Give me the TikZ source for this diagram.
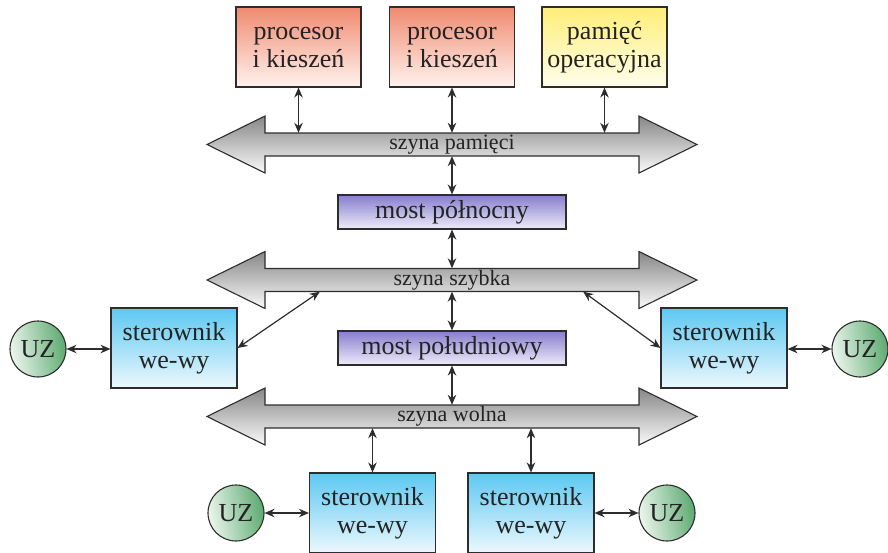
\documentclass[tikz,border=0pt]{standalone}
\usepackage{fontspec}
\setmainfont{Liberation Serif}
\usetikzlibrary{arrows.meta,calc}
\definecolor{edge}{RGB}{45,45,45}
\definecolor{txt}{RGB}{35,35,35}
\definecolor{cpuTop}{RGB}{240,138,112}
\definecolor{cpuBot}{RGB}{255,243,238}
\definecolor{memTop}{RGB}{255,238,120}
\definecolor{memBot}{RGB}{255,254,236}
\definecolor{brTop}{RGB}{135,125,205}
\definecolor{brBot}{RGB}{238,236,250}
\definecolor{ioTop}{RGB}{92,200,242}
\definecolor{ioBot}{RGB}{236,248,253}
\definecolor{uzL}{RGB}{236,246,238}
\definecolor{uzR}{RGB}{92,170,112}
\definecolor{busTop}{RGB}{135,135,135}
\definecolor{busBot}{RGB}{250,250,250}
\newcommand\drawbus[3]{%
  \path[busfill] (207,#2) -- (265,#2-28.5) -- (265,#2-11.5) -- (639,#2-11.5) -- (639,#2-28.5) -- (697,#2)
    -- (639,#2+28.5) -- (639,#2+11.5) -- (265,#2+11.5) -- (265,#2+28.5) -- cycle;
  \node[buslabel] (#1) at (452,#2) {#3};}
\begin{document}
\begin{tikzpicture}[x=1pt,y=-1pt,
  base/.style={draw=edge, line width=1.1pt, inner sep=0pt, align=center, text=txt,
    font=\fontsize{26}{28}\selectfont},
  cpubox/.style={base, minimum width=125pt, minimum height=80pt, top color=cpuTop, bottom color=cpuBot},
  membox/.style={base, minimum width=125pt, minimum height=80pt, top color=memTop, bottom color=memBot},
  bridgebox/.style={base, minimum width=228pt, minimum height=34pt, top color=brTop, bottom color=brBot},
  iobox/.style={base, minimum width=126pt, minimum height=80pt, top color=ioTop, bottom color=ioBot},
  uzc/.style={base, circle, minimum size=56pt, left color=uzL, right color=uzR, shading angle=100},
  busfill/.style={draw=edge, line width=1.1pt, top color=busTop, bottom color=busBot},
  buslabel/.style={inner sep=0pt, minimum width=374pt, minimum height=23pt, text=txt,
    font=\fontsize{22}{24}\selectfont},
  dar/.style={draw=edge, line width=1.2pt, {Stealth[length=10pt,width=8.5pt]}-{Stealth[length=10pt,width=8.5pt]}}
]
\useasboundingbox (0,0) rectangle (888,552);
\clip (0,0) rectangle (888,552);

% top row
\node[cpubox] (p1) at (298.5,47) {procesor\\i kieszeń};
\node[cpubox] (p2) at (452,47) {procesor\\i kieszeń};
\node[membox] (mem) at (604.5,47) {pamięć\\operacyjna};

% buses
\drawbus{bus1}{144.5}{szyna pamięci}
\drawbus{bus2}{280}{szyna szybka}
\drawbus{bus3}{416.5}{szyna wolna}

% bridges
\node[bridgebox] (nb) at (452,212) {most północny};
\node[bridgebox] (sbr) at (452,348) {most południowy};

% controllers
\node[iobox] (sl) at (174,348) {sterownik\\we-wy};
\node[iobox] (sr) at (724,348) {sterownik\\we-wy};
\node[iobox] (sb1) at (372.5,513) {sterownik\\we-wy};
\node[iobox] (sb2) at (531,513) {sterownik\\we-wy};

% devices
\node[uzc] (u1) at (38,349) {UZ};
\node[uzc] (u2) at (860,349) {UZ};
\node[uzc] (u3) at (236,513) {UZ};
\node[uzc] (u4) at (667,513) {UZ};

% connectors
\draw[dar] (p1.south) -- (p1.south |- bus1.north);
\draw[dar] (p2.south) -- (p2.south |- bus1.north);
\draw[dar] (mem.south) -- (mem.south |- bus1.north);
\draw[dar] (bus1.south) -- (nb.north);
\draw[dar] (nb.south) -- (bus2.north);
\draw[dar] (bus2.south) -- (sbr.north);
\draw[dar] (sbr.south) -- (bus3.north);
\draw[dar] (sb1.north |- bus3.south) -- (sb1.north);
\draw[dar] (sb2.north |- bus3.south) -- (sb2.north);
\coordinate (d1) at ($(bus2.south west)+(55,0)$);
\coordinate (d2) at ($(bus2.south east)+(-56,0)$);
\draw[dar] (d1) -- (sl.east);
\draw[dar] (d2) -- (sr.west);
\draw[dar] (u1.east) -- (u1.east -| sl.west);
\draw[dar] (sr.east |- u2.west) -- (u2.west);
\draw[dar] (u3.east) -- (u3.east -| sb1.west);
\draw[dar] (sb2.east |- u4.west) -- (u4.west);
\end{tikzpicture}
\end{document}
